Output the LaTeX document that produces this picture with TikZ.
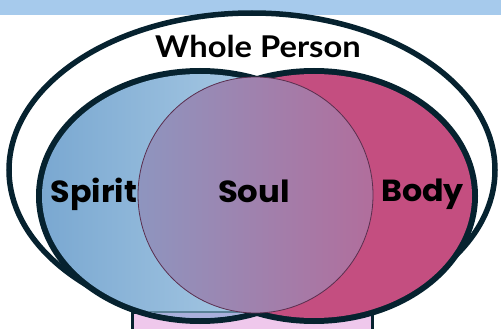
\documentclass[tikz,border=0pt]{standalone}
\usepackage{fontspec}
\newfontfamily\titlefont{Lato}
\newfontfamily\labfont{Poppins}
\definecolor{ink}{HTML}{06222F}
\definecolor{band}{HTML}{A6CAEC}
\definecolor{spA}{HTML}{7AA8D1}
\definecolor{spB}{HTML}{BCD8EC}
\definecolor{bodyc}{HTML}{C44E80}
\definecolor{soA}{HTML}{8E95BF}
\definecolor{soB}{HTML}{B16E9C}
\definecolor{soline}{HTML}{5A2E4E}
\definecolor{rectpink}{HTML}{EFC8EC}
\definecolor{lav}{HTML}{A9B0DC}
\definecolor{tealline}{HTML}{5A8298}
\tikzset{
  titletext/.style={font=\titlefont\bfseries\fontsize{30}{31}\selectfont, text=black, inner sep=0pt},
  labtext/.style={font=\labfont\bfseries\fontsize{30.5}{31}\selectfont, text=black, inner sep=0pt},
  unionline/.style={draw=ink, line width=12pt},
}
\begin{document}
\begin{tikzpicture}[x=1pt,y=-1pt]
\useasboundingbox (0,0) rectangle (501,329);
% top band
\fill[band] (0,0) rectangle (501,15);
% outer whole-person ellipse
\draw[ink, line width=5.5pt] (252,170) ellipse [x radius=243, y radius=157];
% bottom box
\draw[ink, line width=3pt, fill=rectpink] (132,312) rectangle (372,345);
% union outline of spirit and body
\draw[unionline] (200,196) ellipse [x radius=158, y radius=122];
\draw[unionline] (314,196) ellipse [x radius=158, y radius=122];
% fills
\shade[left color=spA, right color=spB] (200,196) ellipse [x radius=158, y radius=122];
\fill[bodyc] (314,196) ellipse [x radius=158, y radius=122];
% box seen through spirit
\begin{scope}
  \clip (200,196) ellipse [x radius=158, y radius=122];
  \fill[lav] (132,312) rectangle (372,345);
  \draw[tealline, line width=2.5pt] (132,312) -- (372,312);
\end{scope}
% soul
\shadedraw[left color=soA, right color=soB, draw=soline, line width=0.8pt] (255.5,195) ellipse [x radius=117.5, y radius=118];
% labels
\node[titletext, anchor=base] (whole) at (258,58) {\scalebox{1.09}[1]{Whole Person}};
\node[labtext, anchor=base] (spirit) at (94,202) {\scalebox{1.04}[1]{Spirit}};
\node[labtext, anchor=base] (soul) at (254,202) {\scalebox{1.06}[1]{Soul}};
\node[labtext, anchor=base] (body) at (422.5,201) {\scalebox{1.04}[1]{Body}};
\end{tikzpicture}
\end{document}
